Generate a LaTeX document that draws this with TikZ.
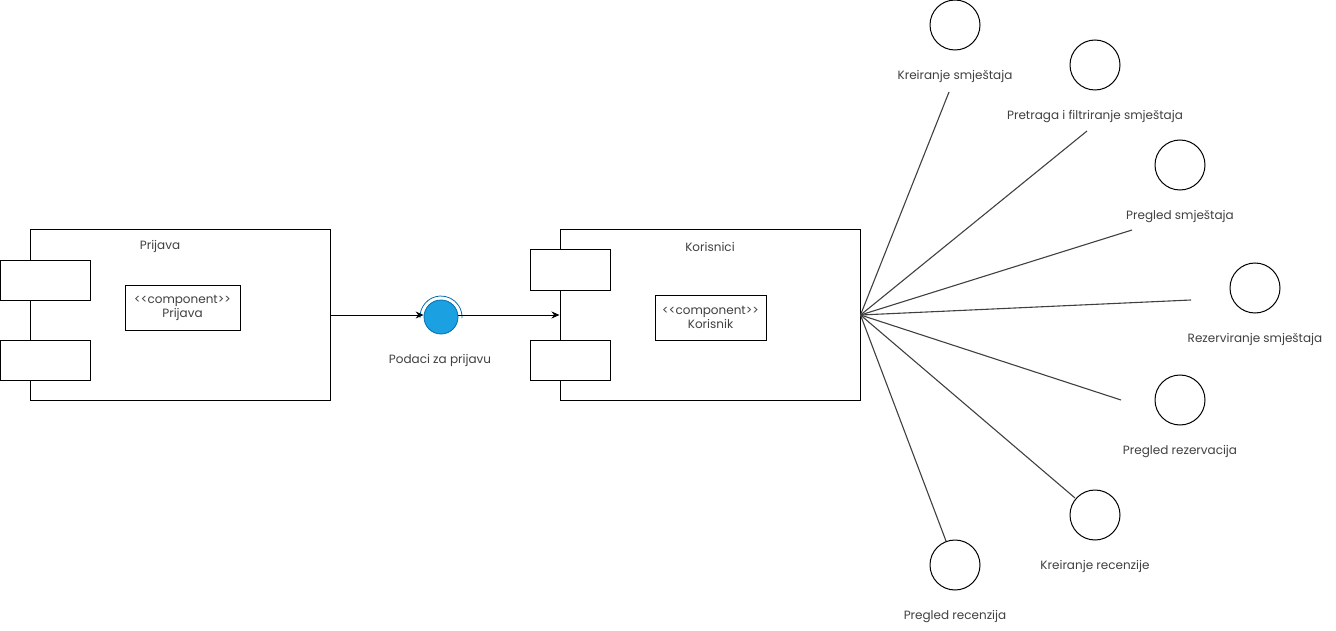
\documentclass[tikz,border=0pt]{standalone}
\usepackage{fontspec}
\setmainfont[Ligatures=NoCommon]{Poppins}
\usepackage{xcolor}
\usetikzlibrary{arrows.meta}

\definecolor{ballfill}{HTML}{1BA1E2}
\definecolor{balldraw}{HTML}{006EAF}

\tikzset{
    compbox/.style={draw, line width=1pt, fill=white, minimum width=300pt, minimum height=170pt},
    portbox/.style={draw, line width=1pt, fill=white, minimum height=40pt},
    innerbox/.style={draw, line width=1pt, align=center, text=black!75, font=\fontsize{12}{14}\selectfont, inner sep=0pt},
    usecase/.style={draw, circle, line width=1pt, minimum size=50pt, inner sep=0pt},
    lbl/.style={text=black!75, font=\fontsize{12}{14}\selectfont, inner sep=0pt, yshift=-1.5pt},
    spoke/.style={draw=black!75, line width=1.1pt},
    arr/.style={line width=1pt, -{Stealth[length=8pt, width=7pt]}}
}

\begin{document}
\begin{tikzpicture}[x=1pt, y=-1pt]
        \useasboundingbox (0, 0) rectangle (1336, 631);

        % Prijava
        \node[compbox] (prijava) at (180, 315) {};
        \node[portbox, minimum width=90pt] (prijavaA) at (45, 280) {};
        \node[portbox, minimum width=90pt] (prijavaB) at (45, 360) {};
        \node[lbl] (prijavaTitle) at (160, 245) {Prijava};
        \node[innerbox, minimum width=115pt, minimum height=45pt] (prijavaInner) at (182.5, 307.5) {<{}<component>{}>\\Prijava};

        % Korisnici
        \node[compbox] (korisnici) at (710, 315) {};
        \node[portbox, minimum width=80pt] (korisniciA) at (570, 270) {};
        \node[portbox, minimum width=80pt] (korisniciB) at (570, 360) {};
        \node[lbl] (korisniciTitle) at (710, 245) {Korisnici};
        \node[innerbox, minimum width=111pt, minimum height=45pt] (korisniciInner) at (710.5, 317.5) {<{}<component>{}>\\Korisnik};

        % lollipop
        \node[circle, fill=ballfill, draw=balldraw, line width=0.8pt, minimum size=34pt, inner sep=0pt] (ball) at (441, 317) {};
        \draw[draw=balldraw, line width=0.8pt] ([shift={(183:21pt)}]ball.center) arc[start angle=183, end angle=-3, radius=21pt];
        \node[lbl] (ballLabel) at (440, 359) {Podaci za prijavu};

        \draw[arr] (prijava.east) -- (ball.west |- prijava.east);
        \draw[arr] (ball.east |- korisnici.west) -- (korisnici.west);

        % use cases
        \node[usecase] (kreiranjeS) at (955, 25) {};
        \node[lbl] at (955, 75) {Kreiranje smještaja};
        \node[usecase] (pretraga) at (1095, 65) {};
        \node[lbl] at (1095, 115) {Pretraga i filtriranje smještaja};
        \node[usecase] (pregledS) at (1180, 165) {};
        \node[lbl] at (1180, 215) {Pregled smještaja};
        \node[usecase] (rezerviranje) at (1255, 288) {};
        \node[lbl] at (1255, 338) {Rezerviranje smještaja};
        \node[usecase] (pregledRez) at (1180, 400) {};
        \node[lbl] at (1180, 450) {Pregled rezervacija};
        \node[usecase] (kreiranjeR) at (1095, 515) {};
        \node[lbl] at (1095, 565) {Kreiranje recenzije};
        \node[usecase] (pregledRec) at (955, 565) {};
        \node[lbl] at (955, 615) {Pregled recenzija};

        \coordinate (endKreiranjeS) at (949, 92);
        \coordinate (endPretraga) at (1087, 131);
        \coordinate (endPregledS) at (1132, 230);
        \coordinate (endRezerviranje) at (1191, 300);
        \coordinate (endPregledRez) at (1121, 400);
        \coordinate (endKreiranjeR) at (1075, 498);
        \coordinate (endPregledRec) at (946, 541);

        \foreach \e in {endKreiranjeS, endPretraga, endPregledS, endRezerviranje, endPregledRez, endKreiranjeR, endPregledRec}
            \draw[spoke] (korisnici.east) -- (\e);
    \end{tikzpicture}
\end{document}
